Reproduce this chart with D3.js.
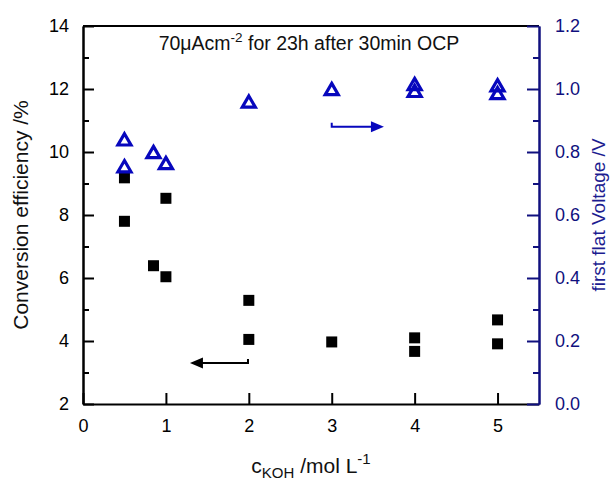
<!DOCTYPE html>
<html>
<head>
<meta charset="utf-8">
<script src="https://cdn.jsdelivr.net/npm/d3@7"></script>
<style>
  html, body { margin: 0; padding: 0; background: #fff; }
  svg { display: block; font-family: "Liberation Sans", Arial, sans-serif; }
</style>
</head>
<body>
<svg id="chart" width="612" height="480"></svg>
<script>
// ---- data ----
const effX = [0.5, 0.5, 0.85, 1, 1, 2, 2, 3, 4, 4, 5, 5];
const effY = [9.18, 7.80, 6.39, 6.04, 8.53, 5.29, 4.05, 3.97, 4.10, 3.67, 4.67, 3.91];
const voltX = [0.5, 0.5, 0.85, 1, 2, 3, 4, 4, 5, 5];
const voltY = [0.84, 0.755, 0.80, 0.765, 0.96, 1.00, 1.016, 0.994, 1.012, 0.987];
const xTicks = [0, 1, 2, 3, 4, 5];
const yLeftTicks = [2, 4, 6, 8, 10, 12, 14];
const yLeftMinor = [3, 5, 7, 9, 11, 13];
const yRightTicks = [0, 0.2, 0.4, 0.6, 0.8, 1.0, 1.2];
const yRightMinor = [0.1, 0.3, 0.5, 0.7, 0.9, 1.1];
// annotation arrows in data coordinates: [xStart, xTip, y, yHook]
const leftArrow = [1.99, 1.29, 3.30, 3.43];
const rightArrow = [3.0, 3.63, 0.880, 0.893];
const titleMain = "70μAcm";
const titleSup = "-2";
const titleRest = " for 23h after 30min OCP";

// ---- layout ----
const L = 83, R = 539, T = 26, B = 404;
const navy = "#10107e";
const blue = "#0707bd";

const svg = d3.select("#chart");
const x = d3.scaleLinear().domain([0, 5.5]).range([L, R]);
const yL = d3.scaleLinear().domain([2, 14]).range([B, T]);
const yR = d3.scaleLinear().domain([0, 1.2]).range([B, T]);

function styleAxis(g, color) {
  g.selectAll("path.domain").attr("stroke", color).attr("stroke-width", 2);
  g.selectAll(".tick line").attr("stroke", color).attr("stroke-width", 2);
  g.selectAll(".tick text").attr("fill", color).attr("font-size", 18)
    .attr("font-family", "Liberation Sans, Arial, sans-serif");
}

// top border
svg.append("line").attr("x1", L).attr("x2", R).attr("y1", T).attr("y2", T)
  .attr("stroke", "#000").attr("stroke-width", 2);

// bottom axis
const gx = svg.append("g").attr("transform", `translate(0,${B})`)
  .call(d3.axisBottom(x).tickValues(xTicks).tickFormat(d3.format("d"))
    .tickSizeInner(-11).tickSizeOuter(0).tickPadding(15.5));
styleAxis(gx, "#000");

// left axis minor + major
const gyLm = svg.append("g").attr("transform", `translate(${L},0)`)
  .call(d3.axisLeft(yL).tickValues(yLeftMinor).tickFormat("").tickSizeInner(-6).tickSizeOuter(0));
styleAxis(gyLm, "#000");
const gyL = svg.append("g").attr("transform", `translate(${L},0)`)
  .call(d3.axisLeft(yL).tickValues(yLeftTicks).tickFormat(d3.format("d"))
    .tickSizeInner(-11).tickSizeOuter(0).tickPadding(14));
styleAxis(gyL, "#000");

// right axis minor + major
const gyRm = svg.append("g").attr("transform", `translate(${R},0)`)
  .call(d3.axisRight(yR).tickValues(yRightMinor).tickFormat("").tickSizeInner(-6).tickSizeOuter(0));
styleAxis(gyRm, navy);
const gyR = svg.append("g").attr("transform", `translate(${R},0)`)
  .call(d3.axisRight(yR).tickValues(yRightTicks).tickFormat(d3.format(".1f"))
    .tickSizeInner(-12).tickSizeOuter(0).tickPadding(16));
styleAxis(gyR, navy);

// squares
const squarePts = effX.map((v, i) => [v, effY[i]]);
svg.append("g").selectAll("path").data(squarePts).join("path")
  .attr("transform", d => `translate(${x(d[0])},${yL(d[1])})`)
  .attr("d", d3.symbol(d3.symbolSquare, 121))
  .attr("fill", "#000");

// triangles (bbox-centred open triangle)
const triBox = {
  draw(context, size) {
    const w = Math.sqrt(size), h = w * 0.86;
    context.moveTo(0, -h / 2);
    context.lineTo(w / 2, h / 2);
    context.lineTo(-w / 2, h / 2);
    context.closePath();
  }
};
const triPts = voltX.map((v, i) => [v, voltY[i]]);
svg.append("g").selectAll("path").data(triPts).join("path")
  .attr("transform", d => `translate(${x(d[0])},${yR(d[1])})`)
  .attr("d", d3.symbol(triBox, 170))
  .attr("fill", "none").attr("stroke", blue).attr("stroke-width", 3.2)
  .attr("stroke-linejoin", "miter");

// arrows
function arrow(a, ys, color) {
  const x0 = x(a[0]), x1 = x(a[1]), yy = ys(a[2]), yh = ys(a[3]);
  const dir = Math.sign(x1 - x0);
  const headL = 13, headH = 5.5;
  svg.append("path")
    .attr("d", `M${x0},${yh}L${x0},${yy}L${x1 - dir * headL + dir * 1},${yy}`)
    .attr("fill", "none").attr("stroke", color).attr("stroke-width", 2);
  svg.append("path")
    .attr("d", `M${x1},${yy}L${x1 - dir * headL},${yy - headH}L${x1 - dir * headL},${yy + headH}Z`)
    .attr("fill", color);
}
arrow(leftArrow, yL, "#000");
arrow(rightArrow, yR, blue);

// title
const title = svg.append("text").attr("x", 309).attr("y", 50)
  .attr("text-anchor", "middle").attr("font-size", 19.5).attr("fill", "#111");
title.append("tspan").text(titleMain);
title.append("tspan").text(titleSup).attr("font-size", 13.5).attr("dy", -8);
title.append("tspan").text(titleRest).attr("dy", 8);

// x label
const xl = svg.append("text").attr("x", 311).attr("y", 473)
  .attr("text-anchor", "middle").attr("font-size", 21).attr("fill", "#111");
xl.append("tspan").text("c");
xl.append("tspan").text("KOH").attr("font-size", 15).attr("dy", 5);
xl.append("tspan").text(" /mol L").attr("dy", -5);
xl.append("tspan").text("-1").attr("font-size", 15).attr("dy", -9);

// left y label
svg.append("text").attr("transform", `translate(27.5,${(T + B) / 2}) rotate(-90)`)
  .attr("text-anchor", "middle").attr("font-size", 21).attr("fill", "#111")
  .text("Conversion efficiency /%");

// right y label
svg.append("text").attr("transform", `translate(605,${(T + B) / 2}) rotate(-90)`)
  .attr("text-anchor", "middle").attr("font-size", 19).attr("fill", "#1c1c90")
  .text("first flat Voltage /V");
</script>
</body>
</html>
